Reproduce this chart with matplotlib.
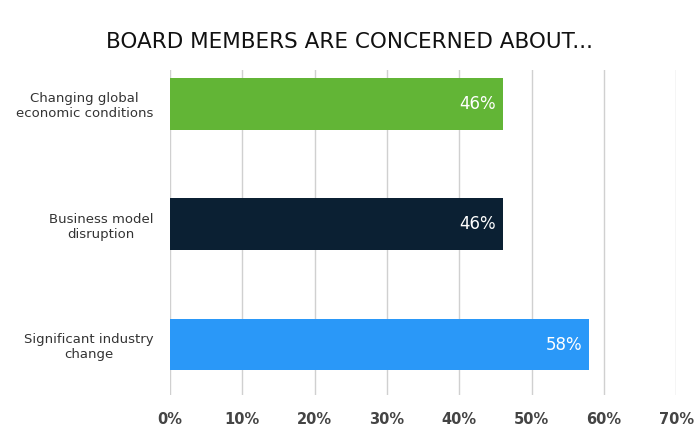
import matplotlib.pyplot as plt

categories = ["Changing global\neconomic conditions", "Business model\ndisruption", "Significant industry\nchange"]
values = [46, 46, 58]
colors = ["#62B536", "#0B2033", "#2A98F8"]
ticks = [0, 10, 20, 30, 40, 50, 60, 70]

fig = plt.figure(figsize=(7, 4.4), dpi=100)
ax = fig.add_axes([0.243, 0.102, 0.723, 0.739])

pos = list(range(len(categories)))
ax.barh(pos, values, height=0.43, color=colors, zorder=3)
for p, v in zip(pos, values):
    ax.text(v - 1, p, f"{v}%", color="white", ha="right", va="center", fontsize=12, zorder=4)

ax.set_xlim(0, 70)
ax.set_ylim(2.42, -0.28)
ax.set_xticks(ticks)
ax.set_xticklabels([f"{t}%" for t in ticks], fontsize=10.5, fontweight="bold", color="#444444")
ax.set_yticks(pos)
ax.set_yticklabels(categories, fontsize=9.5, color="#333333", multialignment="center")
ax.tick_params(length=0, pad=12)
ax.grid(axis="x", color="#d0d0d0", linewidth=1, zorder=0)
for s in ax.spines.values():
    s.set_visible(False)

fig.text(0.5, 0.905, "BOARD MEMBERS ARE CONCERNED ABOUT...", ha="center", va="center",
         fontsize=15.5, family="DejaVu Sans", color="#111111")

fig.savefig("out.png", dpi=100)
